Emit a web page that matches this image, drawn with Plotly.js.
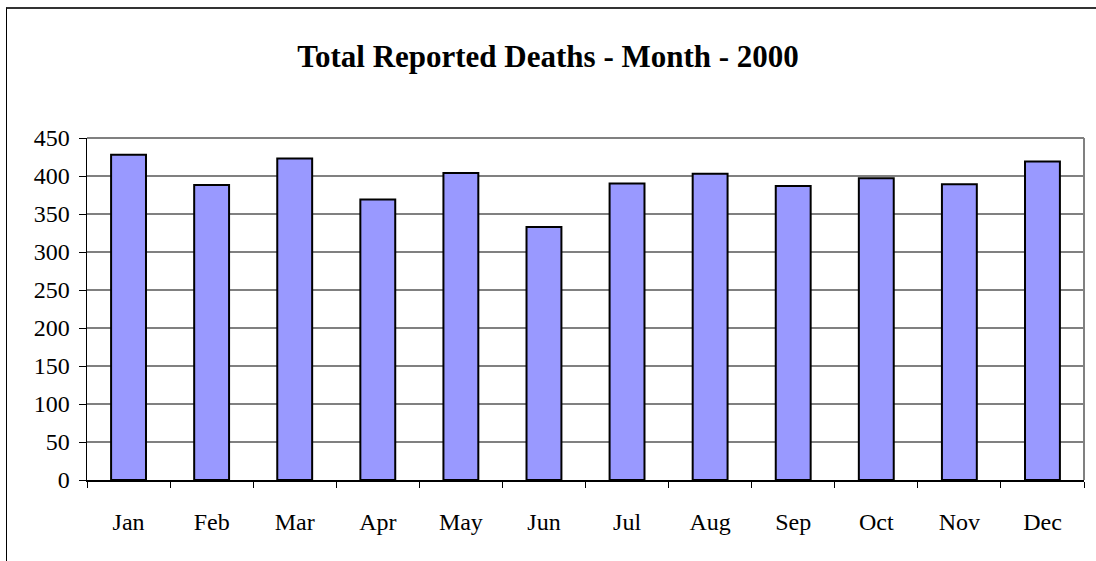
<!DOCTYPE html>
<html>
<head>
<meta charset="utf-8">
<script src="https://cdn.plot.ly/plotly-3.0.1.min.js"></script>
<style>
html,body{margin:0;padding:0;background:#fff;}
#wrap{position:relative;width:1096px;height:561px;}
#chart{width:1096px;height:561px;}
#frame{position:absolute;left:6px;top:7px;width:1090px;height:554px;border-left:1.5px solid #000;border-top:2px solid #333;pointer-events:none;box-sizing:border-box;}
</style>
</head>
<body>
<div id="wrap"><div id="chart"></div><div id="frame"></div></div>
<script>
const months = ["Jan","Feb","Mar","Apr","May","Jun","Jul","Aug","Sep","Oct","Nov","Dec"];
const deaths = [428, 388, 423, 369, 404, 333, 390, 403, 387, 397, 389, 419];
const yTicks = [0,50,100,150,200,250,300,350,400,450];

const trace = {
  type: "bar",
  x: months,
  y: deaths,
  marker: {color: "#9999FF", line: {color: "#000000", width: 2}},
  hoverinfo: "x+y"
};

const FAM = "Liberation Serif, Times New Roman, serif";

const layout = {
  width: 1096, height: 561,
  margin: {l: 87, r: 12, t: 138, b: 81},
  paper_bgcolor: "#fff", plot_bgcolor: "#fff",
  bargap: 0.58,
  showlegend: false,
  font: {family: FAM, color: "#000", size: 24},
  title: {text: "<b>Total Reported Deaths - Month - 2000</b>", font: {family: FAM, size: 31, color: "#000"}, x: 0.5, xanchor: "center", y: 0.9, yanchor: "middle"},
  xaxis: {
    type: "category", tickson: "boundaries", ticks: "outside", ticklen: 6, tickcolor: "#000", tickwidth: 1,
    showline: true, linecolor: "#000", linewidth: 1.5, showgrid: false, zeroline: false,
    ticklabelstandoff: 20, tickfont: {family: FAM, size: 24, color: "#000"}, fixedrange: true
  },
  yaxis: {
    range: [0, 450], tickmode: "array", tickvals: yTicks, ticktext: yTicks.map(String),
    ticks: "outside", ticklen: 7, tickcolor: "#000", tickwidth: 1,
    showline: true, linecolor: "#000", linewidth: 1.5,
    showgrid: true, gridcolor: "#808080", gridwidth: 1.3, zeroline: false,
    ticklabelstandoff: 4, tickfont: {family: FAM, size: 24, color: "#000"}, fixedrange: true
  },
  shapes: [
    {type: "line", xref: "paper", yref: "paper", x0: 0, x1: 1, y0: 1, y1: 1, line: {color: "#808080", width: 2}},
    {type: "line", xref: "paper", yref: "paper", x0: 1, x1: 1, y0: 0, y1: 1, line: {color: "#808080", width: 2}}
  ]
};

Plotly.newPlot("chart", [trace], layout, {displayModeBar: false, staticPlot: true});
</script>
</body>
</html>
